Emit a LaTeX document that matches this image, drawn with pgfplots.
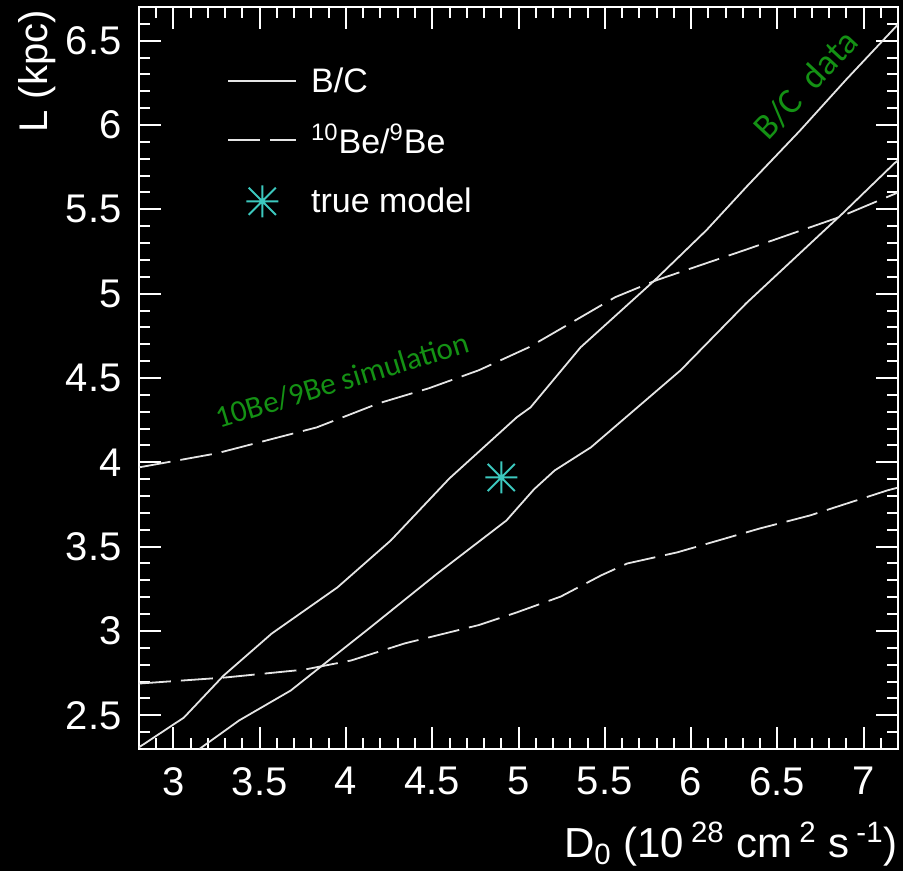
\documentclass[border=0pt]{standalone}
\usepackage{fontspec}
\setmainfont{Liberation Sans}
\newfontfamily\calibri{Carlito}
\usepackage{pgfplots}
\pgfplotsset{compat=1.18}

\definecolor{curve}{gray}{0.9}
\definecolor{modelcyan}{RGB}{60,200,190}
\definecolor{notegreen}{RGB}{20,145,20}

% eight-armed star, as used for the reference model point
\pgfdeclareplotmark{star8}{%
  \pgfpathmoveto{\pgfqpoint{-\pgfplotmarksize}{0pt}}%
  \pgfpathlineto{\pgfqpoint{\pgfplotmarksize}{0pt}}%
  \pgfpathmoveto{\pgfqpoint{0pt}{-\pgfplotmarksize}}%
  \pgfpathlineto{\pgfqpoint{0pt}{\pgfplotmarksize}}%
  \pgfpathmoveto{\pgfqpoint{-0.85\pgfplotmarksize}{-0.85\pgfplotmarksize}}%
  \pgfpathlineto{\pgfqpoint{0.85\pgfplotmarksize}{0.85\pgfplotmarksize}}%
  \pgfpathmoveto{\pgfqpoint{-0.85\pgfplotmarksize}{0.85\pgfplotmarksize}}%
  \pgfpathlineto{\pgfqpoint{0.85\pgfplotmarksize}{-0.85\pgfplotmarksize}}%
  \pgfusepathqstroke}

\pgfplotsset{
  lineimg/.style={legend image code/.code={\draw[##1] (0pt,0pt) -- (34pt,0pt);}},
  markimg/.style={legend image code/.code={\draw[##1] plot coordinates {(17pt,0pt)};}},
}

\begin{document}
\begin{tikzpicture}
\fill[black] (-69.5pt,-61pt) rectangle (382pt,374.5pt);
\begin{axis}[
  scale only axis, width=379.5pt, height=371pt,
  xmin=2.8, xmax=7.2, ymin=2.3, ymax=6.7,
  axis line style={white, line width=1pt},
  tick style={white, line width=1pt},
  major tick length=11pt, minor tick length=5.5pt,
  tick align=inside,
  xtick={3,3.5,4,4.5,5,5.5,6,6.5,7},
  ytick={2.5,3,3.5,4,4.5,5,5.5,6,6.5},
  minor xtick={2.9,3.1,3.2,3.3,3.4,3.6,3.7,3.8,3.9,4.1,4.2,4.3,4.4,4.6,4.7,4.8,4.9,5.1,5.2,5.3,5.4,5.6,5.7,5.8,5.9,6.1,6.2,6.3,6.4,6.6,6.7,6.8,6.9,7.1},
  minor ytick={2.4,2.6,2.7,2.8,2.9,3.1,3.2,3.3,3.4,3.6,3.7,3.8,3.9,4.1,4.2,4.3,4.4,4.6,4.7,4.8,4.9,5.1,5.2,5.3,5.4,5.6,5.7,5.8,5.9,6.1,6.2,6.3,6.4,6.6},
  /pgf/number format/assume math mode=true,
  ticklabel style={font=\fontsize{20}{24}\selectfont, text=white},
  xticklabel style={anchor=north, inner sep=0pt, yshift=-9pt},
  yticklabel style={anchor=east, inner sep=0pt, xshift=-8.5pt},
  xlabel={D\textsubscript{0} (10\,\textsuperscript{28} cm\,\textsuperscript{2} s\,\textsuperscript{-1})},
  xlabel style={at={(axis description cs:1,-0.1469)}, anchor=base east, inner sep=0pt, font=\fontsize{21}{25}\selectfont, text=white},
  ylabel={L (kpc)},
  ylabel style={at={(axis description cs:-0.1199,0.996)}, anchor=base east, inner sep=0pt, font=\fontsize{20}{24}\selectfont, text=white},
  legend style={draw=none, fill=none, text=white, font=\fontsize{17}{20}\selectfont,
    at={(axis description cs:0.1159,0.919)}, anchor=north west, inner sep=0pt,
    row sep=14.5pt, nodes={inner xsep=7pt, inner ysep=0pt}},
  legend cell align=left,
]
% B/C constraint band (two edges)
\addplot[curve, line width=0.9pt, lineimg]
  coordinates {(2.80,2.31) (3.06,2.486) (3.29,2.735) (3.57,2.985) (3.95,3.258)
    (4.26,3.537) (4.60,3.905) (4.99,4.267) (5.07,4.326) (5.36,4.682) (5.79,5.08)
    (6.09,5.377) (6.32,5.632) (6.63,5.965) (6.90,6.27) (7.18,6.575) (7.2,6.597)};
\addlegendentry{B/C}
\addplot[curve, line width=0.9pt, forget plot]
  coordinates {(3.15,2.30) (3.38,2.469) (3.68,2.647) (3.84,2.777) (4.14,3.02)
    (4.53,3.341) (4.93,3.655) (5.09,3.84) (5.21,3.952) (5.42,4.089) (5.94,4.546)
    (6.32,4.943) (6.88,5.477) (7.18,5.774) (7.2,5.79)};
% 10Be/9Be simulation band (two edges)
\addplot[curve, line width=0.9pt, dash pattern=on 16pt off 5pt, lineimg]
  coordinates {(2.80,3.97) (3.25,4.053) (3.83,4.207) (4.19,4.35) (4.48,4.439)
    (4.77,4.546) (5.06,4.682) (5.33,4.842) (5.56,4.979) (5.80,5.08) (6.31,5.258)
    (6.86,5.454) (7.2,5.60)};
\addlegendentry{\textsuperscript{10}Be/\textsuperscript{9}Be}
\addplot[curve, line width=0.9pt, dash pattern=on 16pt off 5pt, forget plot]
  coordinates {(2.80,2.688) (3.30,2.724) (3.76,2.771) (4.03,2.825) (4.34,2.926)
    (4.77,3.035) (4.99,3.11) (5.245,3.204) (5.48,3.33) (5.63,3.40) (5.92,3.466)
    (6.40,3.608) (6.69,3.685) (7.14,3.834) (7.2,3.85)};
% reference model
\addplot[only marks, mark=star8, mark size=8pt, modelcyan, line width=1pt, markimg]
  coordinates {(4.9,3.91)};
\addlegendentry{true model}

\node[rotate=47, anchor=base west, inner sep=0pt, font=\calibri\fontsize{18}{21}\selectfont, text=notegreen]
  at (axis cs:6.45,5.90) {B/C\ \ data};
\node[rotate=17, anchor=base west, inner sep=0pt, font=\calibri\fontsize{15.5}{18}\selectfont, text=notegreen]
  at (axis cs:3.267,4.201) {10Be/9Be simulation};
\end{axis}
\pgfresetboundingbox
\useasboundingbox (-69.5pt,-61pt) rectangle (382pt,374.5pt);
\end{tikzpicture}
\end{document}
